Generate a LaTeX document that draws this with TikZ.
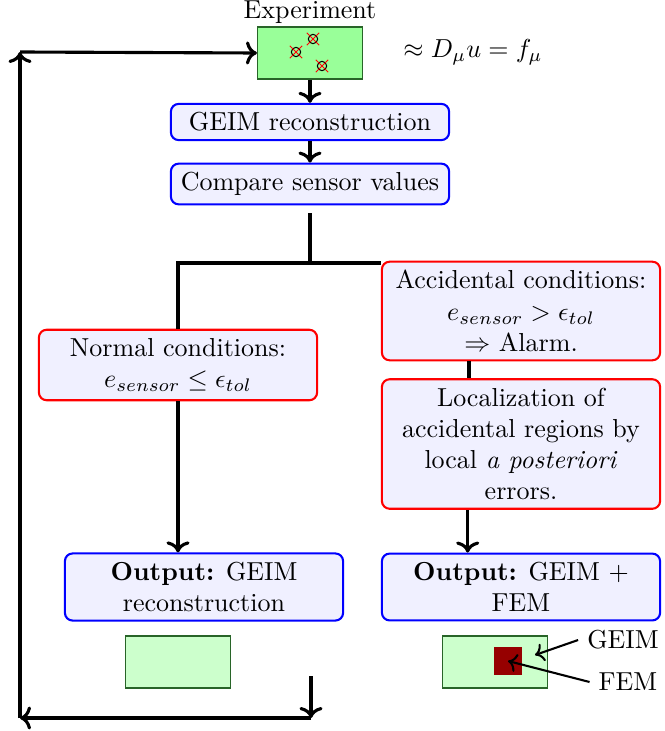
\documentclass[tikz,border=0pt]{standalone}
\usepackage{tikz}
\usetikzlibrary{arrows.meta}

\definecolor{expgreen}{RGB}{153,255,153}
\definecolor{resgreen}{RGB}{204,255,204}
\definecolor{edgegreen}{RGB}{40,100,40}
\definecolor{femred}{RGB}{150,0,0}

\begin{document}
\begin{tikzpicture}[x=0.3846pt,y=-0.3846pt,
  bluebox/.style={draw=blue,fill=blue!6,thick,rounded corners=3pt,minimum width=107pt,align=center},
  redbox/.style={draw=red,fill=blue!6,thick,rounded corners=3pt,minimum width=107pt,align=center},
  field/.style={draw=edgegreen,minimum width=40.4pt,minimum height=20pt,inner sep=0pt},
  flow/.style={very thick}]

\useasboundingbox (0,0) rectangle (665,731);

% Draw experiment with sensors
\node[field,fill=expgreen,label={[inner sep=1pt]above:Experiment}] (exp) at (310,53) {};
\foreach \p in {(296,52),(313,39),(322,66)} {
  \draw[shift={\p}] (0,0) circle (1.8pt);
  \draw[red,shift={\p}] (-2.4pt,-2.4pt) -- (2.4pt,2.4pt) (-2.4pt,2.4pt) -- (2.4pt,-2.4pt);
}
\node (model) at (473,52) {$\approx D_\mu u = f_\mu$};

% Draw reconstruction and comparison
\node[bluebox] (geim) at (310,122) {GEIM reconstruction};
\node[bluebox] (compare) at (310,184) {Compare sensor values};
\draw[flow,->] (exp) -- (geim);
\draw[flow,->] (geim) -- (compare);

% Draw the two cases
\node[redbox] (normal) at (178,365) {Normal conditions:\\ $e_{sensor} \le \epsilon_{tol}$};
\node[redbox] (accident) at (521,311) {Accidental conditions:\\ $e_{sensor} > \epsilon_{tol}$\\ $\Rightarrow$ Alarm.};
\node[redbox] (local) at (521,444) {Localization of\\ accidental regions by\\ local \emph{a posteriori}\\ errors.};

\coordinate (split) at (310,263);
\draw[flow] ([yshift=-3pt]compare.south) -- (split);
\draw[flow] (split) -- (split -| accident.west);
\draw[flow] (split) -| (normal.north);
\draw[flow] ([xshift=-20pt]accident.south) -- ([xshift=-20pt]local.north);

% Draw outputs
\node[bluebox] (outL) at (204,587) {\textbf{Output:} GEIM\\ reconstruction};
\node[bluebox] (outR) at (521,587) {\textbf{Output:} GEIM +\\ FEM};
\draw[flow,->] (normal.south) -- (normal.south |- outL.north);
\draw[flow,->] ([xshift=-20.5pt]local.south) -- ([xshift=-20.5pt]local.south |- outR.north);

% Draw resulting fields
\node[field,fill=resgreen] (resL) at (178,662) {};
\node[field,fill=resgreen] (resR) at (495,662) {};
\node[fill=femred,minimum size=10.4pt,inner sep=0pt] (fem) at (508,661) {};
\coordinate (geimpt) at (535,655);
\node (geimlab) at (623,640) {GEIM};
\node (femlab) at (628,682) {FEM};
\draw[thick,->] (geimlab.west) -- (geimpt);
\draw[thick,->] (femlab.west) -- (fem.center);

% Draw feedback loop
\coordinate (loopstart) at (311,676);
\coordinate (loopbot) at (311,718);
\coordinate (loopleft) at (20,718);
\coordinate (looptop) at (20,52);
\draw[flow,->] (loopstart) -- (loopbot);
\draw[flow,->] (loopbot) -- (loopleft);
\draw[flow,->] (loopleft) -- (looptop);
\draw[flow,->] (looptop) -- (exp.west);

\end{tikzpicture}
\end{document}
